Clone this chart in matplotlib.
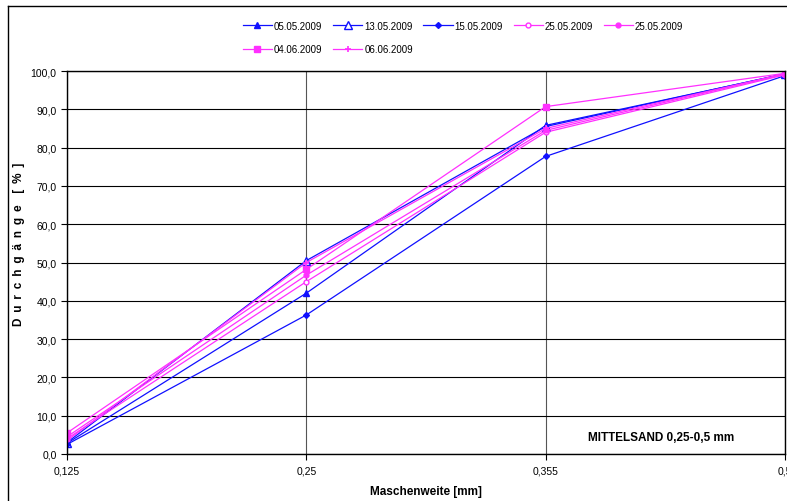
import numpy as np
import matplotlib.pyplot as plt
from matplotlib.lines import Line2D

plt.rcParams['font.family'] = ['Liberation Sans', 'DejaVu Sans']

# sieve sizes (categorical axis)
sizes = ['0,125', '0,25', '0,355', '0,5']

# passing fractions in %
s_0505 = [2.8, 42.0, 85.8, 99.2]
s_1305 = [3.0, 50.5, 85.5, 99.3]
s_1505 = [2.5, 36.3, 77.7, 98.8]
s_2505a = [4.0, 45.0, 84.0, 99.0]
s_2505b = [4.5, 46.7, 84.5, 99.2]
s_0406 = [5.5, 48.2, 90.7, 99.4]
s_0606 = [3.5, 50.0, 85.0, 99.3]

labels = ['05.05.2009', '13.05.2009', '15.05.2009', '25.05.2009',
          '25.05.2009', '04.06.2009', '06.06.2009']

blue = '#1010ff'
mag = '#ff30ff'

fig = plt.figure(figsize=(7.87, 5.02), dpi=100)
ax = fig.add_axes([67/787, 47/502, 718/787, 383/502])

x = np.arange(len(sizes))
h = []
h += ax.plot(x, s_0505, color=blue, lw=0.9, marker='^', ms=4.5, mfc=blue, label=labels[0])
h += ax.plot(x, s_1305, color=blue, lw=0.9, marker='^', ms=6, mfc='white', label=labels[1])
h += ax.plot(x, s_1505, color=blue, lw=0.9, marker='D', ms=3, mfc=blue, label=labels[2])
h += ax.plot(x, s_2505a, color=mag, lw=0.9, marker='o', ms=3.5, mfc='white', label=labels[3])
h += ax.plot(x, s_2505b, color=mag, lw=0.9, marker='o', ms=3.5, mfc=mag, label=labels[4])
h += ax.plot(x, s_0406, color=mag, lw=0.9, marker='s', ms=4, mfc=mag, label=labels[5])
h += ax.plot(x, s_0606, color=mag, lw=0.9, marker='+', ms=5, mew=1.2, label=labels[6])

ax.set_xlim(0, 3)
ax.set_ylim(0, 100)
ax.set_yticks(np.arange(0, 101, 10))
ax.set_yticklabels([f'{v:.1f}'.replace('.', ',') for v in range(0, 101, 10)])
ax.set_xticks(x)
ax.set_xticklabels(sizes)
ax.tick_params(labelsize=7.5, length=4, width=0.8, colors='black')
ax.tick_params(axis='x', pad=4)
ax.grid(axis='y', color='black', lw=0.8)
ax.grid(axis='x', color='#555555', lw=0.8)
for sp in ax.spines.values():
    sp.set_linewidth(1)

ylab = '\u2002'.join('Durchgänge') + '\u2002\u2002' + '\u2002'.join('[%]')
ax.set_ylabel(ylab, fontsize=8.5, fontweight='bold')
ax.yaxis.set_label_coords(-0.058, 0.55)
ax.set_xlabel('Maschenweite [mm]', fontsize=8.5, fontweight='bold', labelpad=7)

ax.text(0.93, 0.03, 'MITTELSAND 0,25-0,5 mm', transform=ax.transAxes,
        ha='right', va='bottom', fontsize=8.5, fontweight='bold')

# row-wise legend order for a 5-column layout
order = [0, 5, 1, 6, 2, 3, 4]
fig.legend([h[i] for i in order], [labels[i] for i in order],
           loc='upper left', bbox_to_anchor=(234/787, 1 - 13/502), ncol=5,
           fontsize=7, frameon=False, handlelength=3, columnspacing=1.1,
           handletextpad=0.2, labelspacing=1.4)

# outer chart frame
fig.add_artist(Line2D([8/787, 8/787], [0, 1 - 7/502], color='black', lw=1))
fig.add_artist(Line2D([8/787, 1], [1 - 7/502, 1 - 7/502], color='black', lw=1))

fig.savefig('out.png', dpi=100)
